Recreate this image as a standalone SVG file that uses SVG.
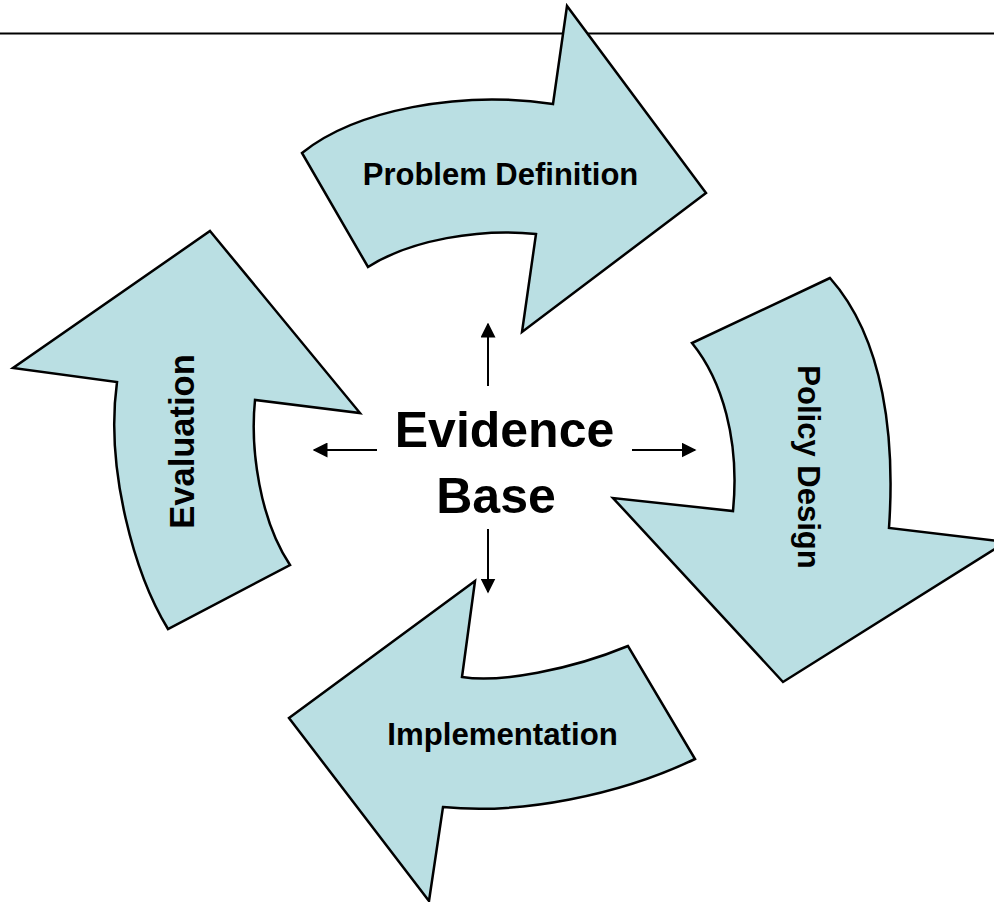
<svg xmlns="http://www.w3.org/2000/svg" width="994" height="902" viewBox="0 0 994 902">
<defs>
<style>
.shape{fill:#BADFE3;stroke:#000;stroke-width:2.5;stroke-linejoin:miter}
.lbl{font-family:"Liberation Sans",Arial,sans-serif;font-weight:bold;fill:#000;text-anchor:middle}
.conn{stroke:#000;stroke-width:2;fill:none}
</style>
<marker id="ah" viewBox="0 0 10 10" refX="9" refY="5" markerWidth="7.5" markerHeight="7.5" orient="auto" markerUnits="strokeWidth">
<path d="M0,0 L10,5 L0,10 Z" fill="#000"/>
</marker>
</defs>
<rect width="994" height="902" fill="#fff"/>
<line x1="0" y1="33.5" x2="994" y2="33.5" stroke="#000" stroke-width="2"/>
<g id="problem-definition">
<path class="shape" d="M302,153 C355,110 460,90 553,104 L567,6 L706,193 L522,332 L536,234 C480,228 410,240 368,267 Z"/>
<text class="lbl" x="500.5" y="185" font-size="31">Problem Definition</text>
</g>
<g id="policy-design">
<path class="shape" d="M830,278 L692,343 C722,380 740,440 733,511 L613,498 L783,682 L1006,542 L889,528 C895,440 885,340 830,278 Z"/>
<text class="lbl" transform="translate(798,467) rotate(90)" x="0" y="0" font-size="31">Policy Design</text>
</g>
<g id="implementation">
<path class="shape" d="M475,581 L462,677 C500,683 570,670 628,646 L695,759 C620,795 520,815 443,807 L429,901 L289,718 Z"/>
<text class="lbl" x="502.5" y="745" font-size="31.2">Implementation</text>
</g>
<g id="evaluation">
<path class="shape" d="M210,231 L360,413 L255,400 C250,450 260,520 290,565 L168,629 C135,575 105,470 117,382 L13,368 Z"/>
<text class="lbl" transform="translate(194,441.5) rotate(-90)" x="0" y="0" font-size="34.5">Evaluation</text>
</g>
<g id="evidence-base">
<text class="lbl" x="504.5" y="447" font-size="50">Evidence</text>
<text class="lbl" x="496" y="513" font-size="50">Base</text>
</g>
<g id="connectors">
<line class="conn" x1="488" y1="386" x2="488" y2="324" marker-end="url(#ah)"/>
<line class="conn" x1="377" y1="450" x2="314" y2="450" marker-end="url(#ah)"/>
<line class="conn" x1="632" y1="450" x2="695" y2="450" marker-end="url(#ah)"/>
<line class="conn" x1="488" y1="529" x2="488" y2="592" marker-end="url(#ah)"/>
</g>
</svg>
